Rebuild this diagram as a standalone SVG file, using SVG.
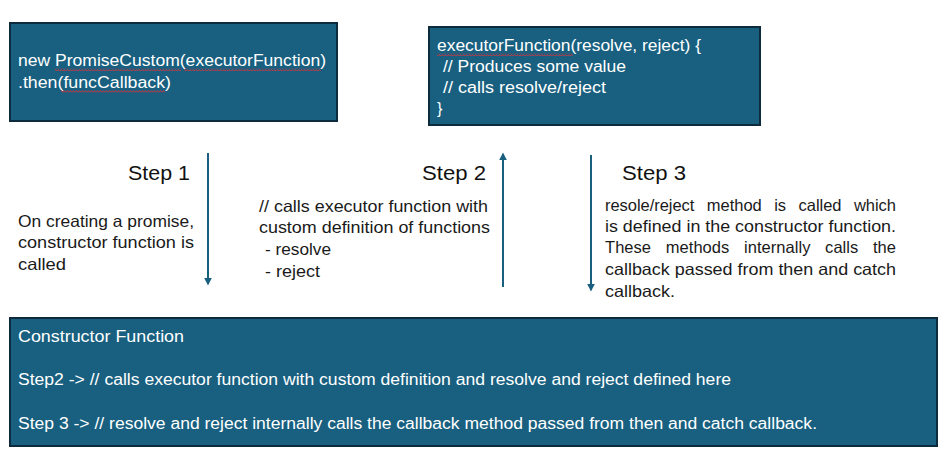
<svg xmlns="http://www.w3.org/2000/svg" width="947" height="465" viewBox="0 0 947 465">
<style>
.box{fill:#185F80;stroke:#0D2B3C;stroke-width:2}
.w{font-family:"Liberation Sans",Arial,sans-serif;font-size:16px;fill:#ffffff}
.step{font-family:"Liberation Sans",Arial,sans-serif;font-size:21px;fill:#111111}
.b{font-family:"Liberation Sans",Arial,sans-serif;font-size:16.5px;fill:#1a1a1a}
.arr{stroke:#1A5F80;stroke-width:2;fill:none}
</style>
<defs>
<marker id="ah" viewBox="0 0 10 10" refX="8" refY="5" markerWidth="4" markerHeight="4" orient="auto" markerUnits="strokeWidth">
<path d="M0,0 L10,5 L0,10 z" fill="#1A5F80"/>
</marker>
<pattern id="wave" width="3" height="3" patternUnits="userSpaceOnUse">
<path d="M0,2.5 L1.5,0.5 L3,2.5" stroke="#d9363e" stroke-width="0.9" fill="none"/>
</pattern>
</defs>
<rect width="947" height="465" fill="#ffffff"/>

<g id="node-new-promise">
<rect class="box" x="10" y="23" width="327" height="98"/>
<text class="w" x="18" y="66" textLength="308" lengthAdjust="spacingAndGlyphs">new PromiseCustom(executorFunction)</text>
<text class="w" x="18" y="88" textLength="153" lengthAdjust="spacingAndGlyphs">.then(funcCallback)</text>
<rect x="55" y="68" width="126" height="3" fill="url(#wave)"/>
<rect x="184" y="68" width="137" height="3" fill="url(#wave)"/>
<rect x="61" y="90" width="104" height="3" fill="url(#wave)"/>
</g>

<g id="node-executor">
<rect class="box" x="429" y="27" width="331" height="98"/>
<text class="w" x="437" y="51" textLength="264" lengthAdjust="spacingAndGlyphs">executorFunction(resolve, reject) {</text>
<text class="w" x="443" y="72" textLength="183" lengthAdjust="spacingAndGlyphs">// Produces some value</text>
<text class="w" x="443" y="93" textLength="163" lengthAdjust="spacingAndGlyphs">// calls resolve/reject</text>
<text class="w" x="437" y="114">}</text>
<rect x="437" y="53" width="136" height="3" fill="url(#wave)"/>
</g>

<g id="node-step1">
<text class="step" x="128" y="180" textLength="62" lengthAdjust="spacingAndGlyphs">Step 1</text>
<text class="b" x="18" y="227" textLength="176" lengthAdjust="spacingAndGlyphs">On creating a promise,</text>
<text class="b" x="18" y="248" textLength="176" lengthAdjust="spacingAndGlyphs">constructor function is</text>
<text class="b" x="18" y="270" textLength="48" lengthAdjust="spacingAndGlyphs">called</text>
</g>

<g id="node-step2">
<text class="step" x="422" y="180" textLength="64" lengthAdjust="spacingAndGlyphs">Step 2</text>
<text class="b" x="259" y="212" textLength="229" lengthAdjust="spacingAndGlyphs">// calls executor function with</text>
<text class="b" x="259" y="233" textLength="231" lengthAdjust="spacingAndGlyphs">custom definition of functions</text>
<text class="b" x="265" y="255" textLength="66" lengthAdjust="spacingAndGlyphs">- resolve</text>
<text class="b" x="265" y="277" textLength="55" lengthAdjust="spacingAndGlyphs">- reject</text>
</g>

<g id="node-step3">
<text class="step" x="622" y="180" textLength="64" lengthAdjust="spacingAndGlyphs">Step 3</text>
<text class="b" x="605" y="211" style="word-spacing:8px" textLength="291" lengthAdjust="spacing">resole/reject method is called which</text>
<text class="b" x="605" y="232" textLength="291" lengthAdjust="spacingAndGlyphs">is defined in the constructor function.</text>
<text class="b" x="605" y="253" style="word-spacing:10px" textLength="291" lengthAdjust="spacing">These methods internally calls the</text>
<text class="b" x="605" y="275" textLength="291" lengthAdjust="spacingAndGlyphs">callback passed from then and catch</text>
<text class="b" x="605" y="297" textLength="70" lengthAdjust="spacingAndGlyphs">callback.</text>
</g>

<g id="node-constructor">
<rect class="box" x="10" y="318" width="927" height="128"/>
<text class="w" x="18" y="342" textLength="166" lengthAdjust="spacingAndGlyphs">Constructor Function</text>
<text class="w" x="18" y="385" textLength="713" lengthAdjust="spacingAndGlyphs">Step2 -&gt; // calls executor function with custom definition and resolve and reject defined here</text>
<text class="w" x="18" y="429" textLength="799" lengthAdjust="spacingAndGlyphs">Step 3 -&gt; // resolve and reject internally calls the callback method passed from then and catch callback.</text>
</g>

<g id="connectors">
<line class="arr" x1="208" y1="153" x2="208" y2="284" marker-end="url(#ah)"/>
<line class="arr" x1="503" y1="287" x2="503" y2="154" marker-end="url(#ah)"/>
<line class="arr" x1="591" y1="155" x2="591" y2="290" marker-end="url(#ah)"/>
</g>
</svg>
